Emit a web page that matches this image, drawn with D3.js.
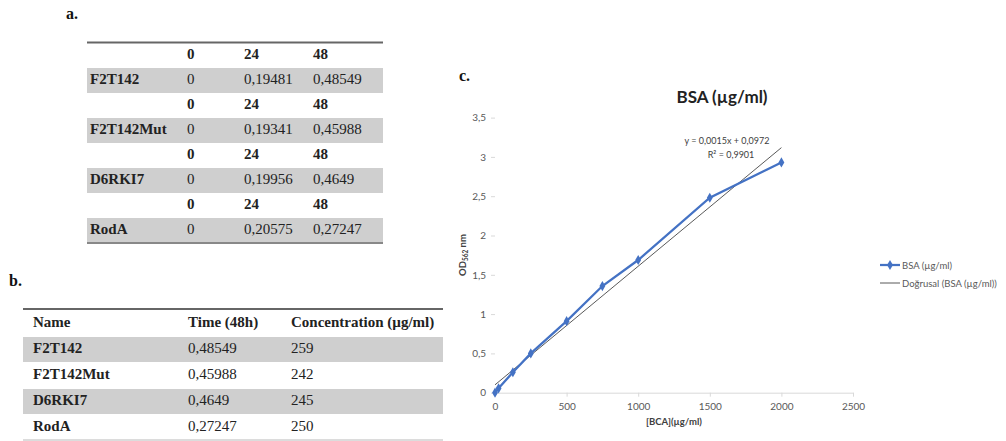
<!DOCTYPE html>
<meta charset="utf-8">
<style>
body { margin: 0; background: #fff; }
svg { display: block; }
.tbl text { font-family: "Liberation Serif", "Times New Roman", serif; font-size: 15px; fill: #222; dominant-baseline: middle; }
.tbl .b { font-weight: bold; }
.panel { font-family: "Liberation Serif", serif; font-weight: bold; font-size: 16px; fill: #111; }
.chart text { font-family: Lato, "Open Sans", sans-serif; fill: #595959; }
</style>
<svg width="1006" height="441"></svg>
<script src="https://cdn.jsdelivr.net/npm/d3@7"></script>
<script>

// table a
var timesA = [0, 24, 48];
var strains = ["F2T142", "F2T142Mut", "D6RKI7", "RodA"];
var odA = [
  [0, 0.19481, 0.48549],
  [0, 0.19341, 0.45988],
  [0, 0.19956, 0.4649],
  [0, 0.20575, 0.27247]
];

// table b
var headB = ["Name", "Time (48h)", "Concentration (µg/ml)"];
var time48 = [0.48549, 0.45988, 0.4649, 0.27247];
var concB = [259, 242, 245, 250];

// chart c
var bsaConc = [0, 25, 125, 250, 500, 750, 1000, 1500, 2000];
var bsaOD = [0, 0.056, 0.26, 0.5, 0.91, 1.357, 1.688, 2.48, 2.93];
var yTicks = [0, 0.5, 1, 1.5, 2, 2.5, 3, 3.5];
var xTicks = [0, 500, 1000, 1500, 2000, 2500];

function comma(v) { return String(v).replace(".", ","); }

var svg = d3.select("svg");

// ---------- table a ----------
var ta = svg.append("g").attr("class", "tbl");
svg.append("text").attr("class", "panel").attr("x", 66).attr("y", 19).text("a.");

var rowA = d3.scaleBand().domain(d3.range(8)).range([43, 243]);
var colA = [90, 187, 244, 313];

ta.selectAll("rect.band")
  .data(strains)
  .enter().append("rect")
  .attr("x", 87).attr("width", 296)
  .attr("y", function(d, i) { return rowA(i * 2 + 1); })
  .attr("height", rowA.bandwidth())
  .attr("fill", "#cfcfcf");

strains.forEach(function(s, i) {
  var hy = rowA(i * 2) + rowA.bandwidth() / 2;
  var ry = rowA(i * 2 + 1) + rowA.bandwidth() / 2;
  timesA.forEach(function(t, j) {
    ta.append("text").attr("class", "b").attr("x", colA[j + 1]).attr("y", hy).text(t);
  });
  ta.append("text").attr("class", "b").attr("x", colA[0]).attr("y", ry).text(s);
  odA[i].forEach(function(v, j) {
    ta.append("text").attr("x", colA[j + 1]).attr("y", ry).text(comma(v));
  });
});
ta.append("line").attr("x1", 87).attr("x2", 383).attr("y1", 42.5).attr("y2", 42.5)
  .attr("stroke", "#666").attr("stroke-width", 2);
ta.append("line").attr("x1", 87).attr("x2", 383).attr("y1", 243).attr("y2", 243)
  .attr("stroke", "#888").attr("stroke-width", 2);

// ---------- table b ----------
var tb = svg.append("g").attr("class", "tbl");
svg.append("text").attr("class", "panel").attr("x", 9).attr("y", 286).text("b.");

var rowB = d3.scaleBand().domain(d3.range(5)).range([311, 441]);
var colB = [33, 188, 291];

tb.selectAll("rect.band")
  .data([0, 2])
  .enter().append("rect")
  .attr("x", 23).attr("width", 420)
  .attr("y", function(d) { return rowB(d + 1); })
  .attr("height", rowB.bandwidth() - 1)
  .attr("fill", "#cfcfcf");

headB.forEach(function(h, j) {
  tb.append("text").attr("class", "b").attr("x", colB[j]).attr("y", rowB(0) + rowB.bandwidth() / 2).text(h);
});
strains.forEach(function(s, i) {
  var y = rowB(i + 1) + rowB.bandwidth() / 2;
  tb.append("text").attr("class", "b").attr("x", colB[0]).attr("y", y).text(s);
  tb.append("text").attr("x", colB[1]).attr("y", y).text(comma(time48[i]));
  tb.append("text").attr("x", colB[2]).attr("y", y).text(concB[i]);
});
tb.append("line").attr("x1", 23).attr("x2", 443).attr("y1", 309).attr("y2", 309)
  .attr("stroke", "#666").attr("stroke-width", 2);
tb.append("line").attr("x1", 23).attr("x2", 443).attr("y1", 440).attr("y2", 440)
  .attr("stroke", "#d0d0d0").attr("stroke-width", 1.5);

// ---------- chart c ----------
svg.append("text").attr("class", "panel").attr("x", 459).attr("y", 81).text("c.");

var c = svg.append("g").attr("class", "chart");
var x = d3.scaleLinear().domain([0, 2500]).range([495, 853]);
var y = d3.scaleLinear().domain([0, 3.5]).range([392.7, 117.6]);

c.append("text").attr("x", 722).attr("y", 103).attr("text-anchor", "middle")
  .style("font-size", "17px").style("font-weight", "bold").style("fill", "#222")
  .text("BSA (µg/ml)");

var yAxis = c.append("g").attr("transform", "translate(" + x(0) + ",0)")
  .call(d3.axisLeft(y).tickValues(yTicks).tickSize(4).tickPadding(5).tickFormat(comma));
yAxis.select(".domain").remove();

var xAxis = c.append("g").attr("transform", "translate(0," + y(0) + ")")
  .call(d3.axisBottom(x).tickValues(xTicks).tickSize(4).tickPadding(6).tickSizeOuter(0)
    .tickFormat(function(d) { return String(d); }));
xAxis.select(".domain").attr("stroke", "#d9d9d9");

c.selectAll(".tick line").attr("stroke", "#d9d9d9");
c.selectAll(".tick text").style("font-size", "10px").style("fill", "#595959").style("font-family", "Lato, sans-serif");

// axis titles
c.append("text").attr("x", 674).attr("y", 425).attr("text-anchor", "middle")
  .style("font-size", "9.5px").style("font-weight", "bold").style("fill", "#404040")
  .text("[BCA](µg/ml)");
var yt = c.append("text").attr("transform", "translate(466,255) rotate(-90)")
  .attr("text-anchor", "middle")
  .style("font-size", "9.5px").style("font-weight", "bold").style("fill", "#404040");
yt.append("tspan").text("OD");
yt.append("tspan").attr("dy", 2).style("font-size", "6.5px").text("562");
yt.append("tspan").attr("dy", -2).text(" nm");

// linear trend from the points
var mx = d3.mean(bsaConc), my = d3.mean(bsaOD);
var sxy = d3.sum(bsaConc, function(v, i) { return (v - mx) * (bsaOD[i] - my); });
var sxx = d3.sum(bsaConc, function(v) { return (v - mx) * (v - mx); });
var slope = sxy / sxx, icpt = my - slope * mx;
var xr = d3.extent(bsaConc);

c.append("line")
  .attr("x1", x(xr[0])).attr("y1", y(icpt + slope * xr[0]))
  .attr("x2", x(xr[1])).attr("y2", y(icpt + slope * xr[1]))
  .attr("stroke", "#222").attr("stroke-width", 0.75);

var pts = bsaConc.map(function(v, i) { return [v, bsaOD[i]]; });
c.append("path").datum(pts)
  .attr("fill", "none").attr("stroke", "#4472c4").attr("stroke-width", 2.25)
  .attr("d", d3.line().x(function(d) { return x(d[0]); }).y(function(d) { return y(d[1]); }));

var diamond = d3.symbol().type(d3.symbolDiamond).size(30);
c.selectAll("path.pt").data(pts).enter().append("path")
  .attr("class", "pt")
  .attr("transform", function(d) { return "translate(" + x(d[0]) + "," + y(d[1]) + ")"; })
  .attr("d", diamond).attr("fill", "#4472c4");

// equation label
c.append("text").attr("x", 727).attr("y", 144).attr("text-anchor", "middle")
  .style("font-size", "9px").style("fill", "#404040").text("y = 0,0015x + 0,0972");
c.append("text").attr("x", 731).attr("y", 158).attr("text-anchor", "middle")
  .style("font-size", "9px").style("fill", "#404040").text("R² = 0,9901");

// legend
var leg = c.append("g");
leg.append("line").attr("x1", 880).attr("x2", 900).attr("y1", 265).attr("y2", 265)
  .attr("stroke", "#4472c4").attr("stroke-width", 2.25);
leg.append("path").attr("transform", "translate(890,265)").attr("d", diamond).attr("fill", "#4472c4");
leg.append("text").attr("x", 902).attr("y", 268.5).style("font-size", "9.5px").text("BSA (µg/ml)");
leg.append("line").attr("x1", 880).attr("x2", 900).attr("y1", 283).attr("y2", 283)
  .attr("stroke", "#222").attr("stroke-width", 0.75);
leg.append("text").attr("x", 902).attr("y", 286.5).style("font-size", "9.5px").text("Doğrusal (BSA (µg/ml))");

</script>
